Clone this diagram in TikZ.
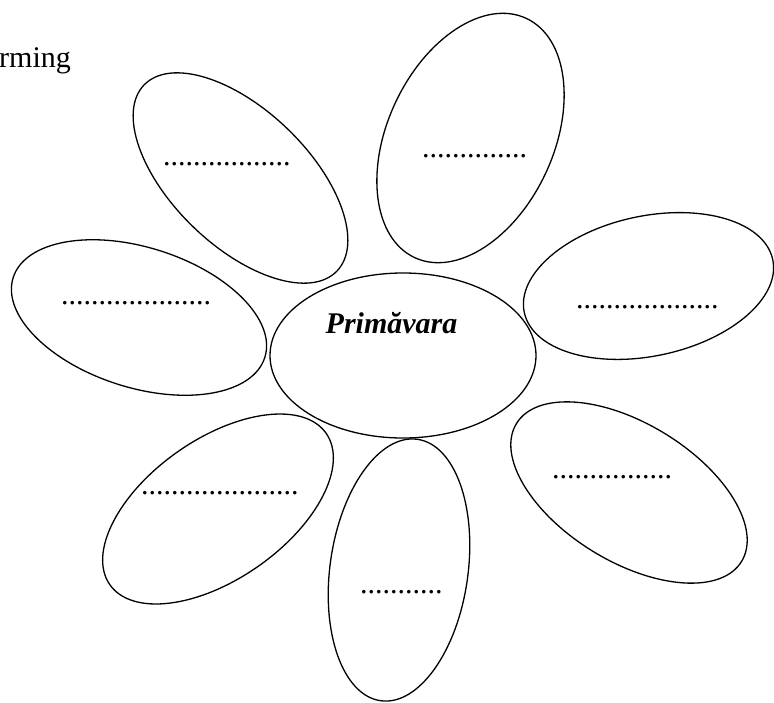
\documentclass[tikz,border=0pt]{standalone}
\usepackage{fontspec}
\setmainfont{Liberation Serif}
\usepackage{tikz}
\usetikzlibrary{shapes.geometric,positioning}
\tikzset{%
	petal/.style  = {draw, ellipse, line width=1.3pt, inner sep=0pt},
	blank/.style  = {anchor=base west, inner sep=0pt, font=\fontsize{30}{36}\selectfont},
	title/.style  = {anchor=base, inner sep=0pt, font=\fontsize{30}{36}\selectfont\bfseries\itshape},
}
\newcommand{\dotrow}[1]{\foreach \k in {1,...,#1}{.}}

\begin{document}
\begin{tikzpicture}[x=1pt,y=1pt]
	\useasboundingbox (0,0) rectangle (774,-702);
	
	\node[blank] (head) at (-1,-67) {rming};
	
	\foreach \px/\py/\ang/\pa/\pb/\nm in {240.5/-178/-44/134/68/tl, 470.5/-138/65/132/83/t, 139/-317.5/-17.6/132/70/l, 648.5/-286/12/127/70/r, 218/-509/35/132/70/bl, 629/-492.5/-31.5/132/69/br, 399/-570/82/132/69/b} \node[petal, minimum width=2*\pa, minimum height=2*\pb, rotate=\ang] (\nm) at (\px,\py) {};
	
	\node[petal, minimum width=266, minimum height=165] (core) at (403,-355.5) {};
	\node[title] (spring) at (391.5,-333) {Primăvara};
	
	\foreach \dx/\dy/\n/\nm in {163/-165/17/tl, 422/-157/14/t, 61/-304/20/l, 576/-308/19/r, 141/-494/21/bl, 552/-478/16/br, 360/-593/11/b} \node[blank] (d-\nm) at (\dx,\dy) {\dotrow{\n}};
\end{tikzpicture}
\end{document}
